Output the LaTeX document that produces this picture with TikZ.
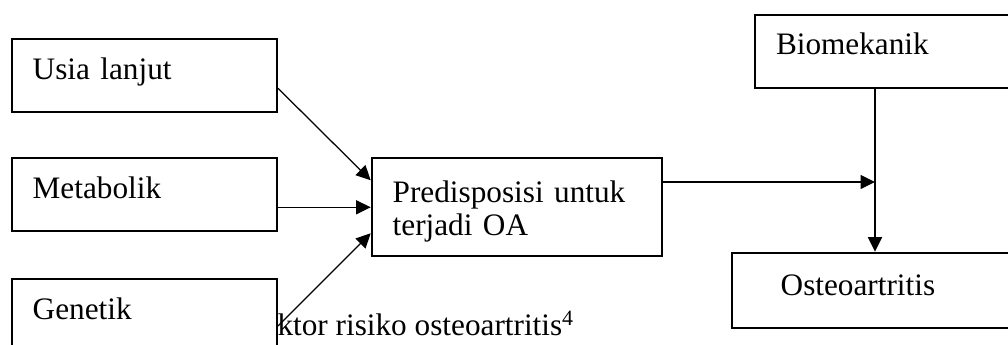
\documentclass[tikz,border=0pt]{standalone}
\usepackage{fontspec}
\setmainfont{Liberation Serif}
\usetikzlibrary{arrows.meta, calc}

\begin{document}
\begin{tikzpicture}[x=0.4pt, y=-0.4pt,
    factor/.style={rectangle, draw=black, line width=0.8pt, anchor=north west,
                   text width=89.3pt, inner xsep=8.4pt, inner ysep=0pt,
                   text height=16.4pt, text depth=12.8pt, align=left,
                   font=\fontsize{12.5}{13.2}\selectfont},
    flow/.style={-{Triangle[length=5.8pt, width=5.6pt]}, line width=0.5pt}
  ]
    \useasboundingbox (0,0) rectangle (1008,345);
    \clip (0,0) rectangle (1008,345);

    % Caption (partly behind the Genetik box)
    \node[font=\fontsize{12.5}{13.2}\selectfont, anchor=base west, inner sep=0pt]
      (caption) at (277,336) {ktor risiko osteoartritis\textsuperscript{4}};

    % Risk factors (left)
    \node[factor] (usia)    at (10.7, 38)  {Usia lanjut};
    \node[factor] (metab)   at (10.7, 157) {Metabolik};
    \node[factor] (genetik) at (10.7, 278) {Genetik};
    % Predisposition
    \node[factor, text width=99.2pt, text height=17.6pt, text depth=21.6pt]
      (predis) at (370.7, 157.3) {Predisposisi untuk\\terjadi OA};
    % Biomechanics and outcome (right)
    \node[factor, text width=99.2pt, text height=15.7pt, text depth=13.5pt]
      (bio) at (754, 14) {Biomekanik};
    \node[factor, text width=80.8pt, inner xsep=19.6pt, text height=17.3pt]
      (osteo) at (730.7, 251.7) {Osteoartritis};
    % Where the predisposition meets the biomechanics line
    \coordinate (join) at (875, 182);

    % Factors -> predisposition
    \draw[flow] ($(usia.north east)!0.67!(usia.south east)$)
      -- ($(predis.north west)!0.23!(predis.south west)$);
    \draw[flow] (predis.west -| metab.east) -- (predis.west);
    \draw[flow] ($(genetik.north east)!0.64!(genetik.south east)$)
      -- ($(predis.north west)!0.76!(predis.south west)$);

    % Predisposition + biomechanics -> osteoarthritis
    \draw[flow] (join -| predis.east) -- (join);
    \draw[flow] (bio.south -| join) -- (osteo.north -| join);
  \end{tikzpicture}
\end{document}
